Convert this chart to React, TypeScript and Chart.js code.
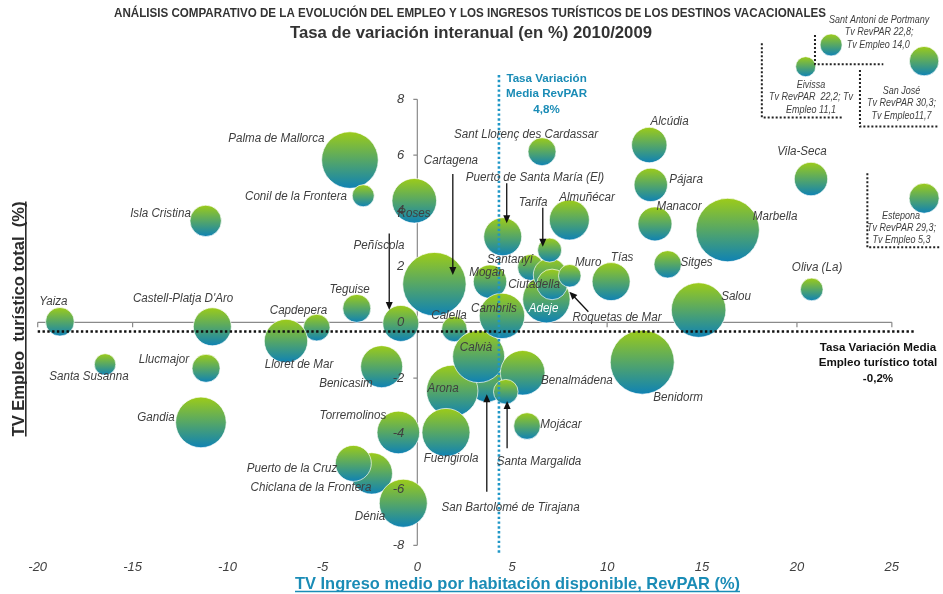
import React, { useEffect, useRef } from 'react';
import { Chart, registerables } from 'chart.js';

Chart.register(...registerables);

const FONT = '"Liberation Sans", Arial, Helvetica, sans-serif';

const TITLE = 'ANÁLISIS COMPARATIVO DE LA EVOLUCIÓN DEL EMPLEO Y LOS INGRESOS TURÍSTICOS DE LOS DESTINOS VACACIONALES';
const SUBTITLE = 'Tasa de variación interanual (en %) 2010/2009';
const X_TITLE = 'TV Ingreso medio por habitación disponible, RevPAR (%)';
const Y_TITLE = 'TV Empleo  turístico total  (%)';

// Destinations in drawing order
const DESTINOS = [
  'Yaiza', 'Santa Susanna', 'Isla Cristina', "Castell-Platja D'Aro", 'Llucmajor', 'Gandia',
  'Capdepera', 'Lloret de Mar', 'Teguise', 'Palma de Mallorca', 'Conil de la Frontera', 'Benicasim',
  'Peñíscola', 'Torremolinos', 'Chiclana de la Frontera', 'Puerto de la Cruz', 'Dénia', 'Roses',
  'Cartagena', 'San Bartolomé de Tirajana', 'Arona', 'Fuengirola', 'Calella', 'Calvià',
  'Benalmádena', 'Santa Margalida', 'Mojácar', 'Mogán', 'Cambrils', 'Puerto de Santa María (El)',
  'Santanyí', 'Sant Llorenç des Cardassar', 'Almuñécar', 'Adeje', 'Roquetas de Mar', 'Ciutadella',
  'Tarifa', 'Muro', 'Tías', 'Benidorm', 'Alcúdia', 'Pájara', 'Manacor', 'Sitges', 'Salou',
  'Marbella', 'Vila-Seca', 'Oliva (La)', 'Eivissa', 'Sant Antoni de Portmany', 'San José', 'Estepona',
];
// TV RevPAR (%) – x
const TV_REVPAR = [
  -18.83, -16.45, -11.15, -10.8, -11.13, -11.4,
  -5.3, -6.92, -3.19, -3.55, -2.85, -1.88,
  -0.87, -1.0, -2.4, -3.37, -0.74, -0.16,
  0.9, 3.67, 1.84, 1.51, 1.95, 3.23,
  5.55, 4.66, 5.78, 3.83, 4.46, 4.5,
  5.97, 6.57, 8.01, 6.8, 6.99, 7.1,
  6.97, 8.03, 10.21, 11.85, 12.22, 12.3, 12.52, 13.19, 14.82,
  16.35, 20.74, 20.78, 20.46, 21.8, 26.7, 26.7,
];
// TV Empleo turístico total (%) – y
const TV_EMPLEO = [
  0.02, -1.51, 3.64, -0.16, -1.65, -3.59,
  -0.19, -0.67, 0.5, 5.82, 4.54, -1.59,
  -0.04, -3.95, -5.42, -5.06, -6.49, 4.36,
  1.37, -2.14, -2.46, -3.95, -0.24, -1.23,
  -1.81, -2.49, -3.72, 1.46, 0.23, 3.07,
  1.97, 6.12, 3.67, 0.83, 1.7, 1.36,
  2.59, 1.67, 1.46, -1.43, 6.36, 4.93, 3.53, 2.08, 0.44,
  3.31, 5.14, 1.18, 9.17, 9.95, 9.37, 4.45,
];
// Bubble size (radius)
const TAMANO = [
  14.3, 10.7, 15.7, 19, 14, 25.3,
  13.3, 21.7, 14, 28.3, 11, 21,
  18, 21.3, 20.7, 18, 24, 22.3,
  31.7, 20, 25.7, 24, 12.7, 26,
  22.3, 12.3, 13.3, 16.7, 22.7, 19,
  13, 14, 20, 23.7, 16.7, 15.3,
  12, 11.3, 19, 32, 17.7, 16.7, 17, 13.7, 27.3,
  31.7, 16.7, 11.3, 10, 11, 14.7, 15,
];

const X_TICKS = [-20, -15, -10, -5, 0, 5, 10, 15, 20, 25];
const Y_TICKS = [-8, -6, -4, -2, 0, 2, 4, 6, 8];

const MEDIA_REVPAR_LINE = 4.3;
const MEDIA_EMPLEO_LINE = -0.33;
const MEDIA_REVPAR_TEXT = ['Tasa Variación', 'Media RevPAR', '4,8%'];
const MEDIA_EMPLEO_TEXT = ['Tasa Variación Media', 'Empleo turístico total', '-0,2%'];

// label anchor positions (data units)
const LABELS: [string, number, number][] = [
  ['Palma de Mallorca', -7.43, 6.58],
  ['Conil de la Frontera', -6.39, 4.53],
  ['Isla Cristina', -13.53, 3.92],
  ['Yaiza', -19.17, 0.76],
  ["Castell-Platja D'Aro", -12.34, 0.84],
  ['Capdepera', -6.26, 0.41],
  ['Santa Susanna', -17.3, -1.93],
  ['Llucmajor', -13.35, -1.32],
  ['Lloret de Mar', -6.23, -1.53],
  ['Benicasim', -3.76, -2.18],
  ['Gandia', -13.77, -3.43],
  ['Torremolinos', -3.39, -3.36],
  ['Puerto de la Cruz', -6.6, -5.26],
  ['Chiclana de la Frontera', -5.6, -5.91],
  ['Dénia', -2.49, -6.95],
  ['Arona', 1.36, -2.36],
  ['Fuengirola', 1.78, -4.9],
  ['Calella', 1.67, 0.26],
  ['Cambrils', 4.04, 0.48],
  ['Calvià', 3.09, -0.92],
  ['Benalmádena', 8.41, -2.07],
  ['Benidorm', 13.74, -2.68],
  ['Mojácar', 7.57, -3.68],
  ['Santa Margalida', 6.41, -4.98],
  ['San Bartolomé de Tirajana', 4.91, -6.63],
  ['Roquetas de Mar', 10.52, 0.19],
  ['Salou', 16.79, 0.94],
  ['Oliva (La)', 21.06, 1.95],
  ['Sitges', 14.71, 2.13],
  ['Tías', 10.79, 2.31],
  ['Muro', 9.0, 2.16],
  ['Marbella', 18.85, 3.81],
  ['Manacor', 13.79, 4.14],
  ['Pájara', 14.16, 5.14],
  ['Alcúdia', 13.29, 7.19],
  ['Vila-Seca', 20.27, 6.11],
  ['Almuñécar', 8.94, 4.46],
  ['Tarifa', 6.1, 4.31],
  ['Puerto de Santa María (El)', 6.2, 5.2],
  ['Sant Llorenç des Cardassar', 5.73, 6.75],
  ['Cartagena', 1.77, 5.82],
  ['Roses', -0.17, 3.92],
  ['Peñíscola', -2.02, 2.77],
  ['Teguise', -3.57, 1.19],
  ['Santanyí', 4.88, 2.27],
  ['Mogán', 3.67, 1.8],
  ['Ciutadella', 6.15, 1.37],
];
const WHITE_LABELS: [string, number, number][] = [['Adeje', 6.65, 0.51]];

const NOTES: [string, number, number][] = [
  ['Sant Antoni de Portmany', 24.33, 10.84],
  ['Tv RevPAR 22,8;', 24.33, 10.41],
  ['Tv Empleo 14,0', 24.28, 9.95],
  ['Eivissa', 20.74, 8.51],
  ['Tv RevPAR  22,2; Tv', 20.74, 8.08],
  ['Empleo 11,1', 20.74, 7.61],
  ['San José', 25.51, 8.3],
  ['Tv RevPAR 30,3;', 25.51, 7.87],
  ['Tv Empleo11,7', 25.51, 7.4],
  ['Estepona', 25.48, 3.81],
  ['Tv RevPAR 29,3;', 25.51, 3.38],
  ['Tv Empleo 5,3', 25.51, 2.95],
];

const BOXES: [number, number][][] = [
  [[18.15, 10.01], [18.15, 7.35], [22.41, 7.35]],
  [[20.95, 10.31], [20.95, 9.26], [24.55, 9.26]],
  [[23.32, 9.05], [23.32, 7.02], [27.5, 7.02]],
  [[23.71, 5.35], [23.71, 2.69], [27.5, 2.69]],
];

const ARROWS: [number, number, number, number][] = [
  [-1.48, 3.19, -1.48, 0.44],
  [1.87, 5.32, 1.87, 1.7],
  [4.71, 4.99, 4.71, 3.55],
  [6.61, 4.11, 6.61, 2.71],
  [9.01, 0.38, 8.01, 1.1],
  [3.66, -6.08, 3.66, -2.58],
  [4.73, -4.52, 4.73, -2.82],
];

const TEAL = '#1a8cb6';
const LABEL_COLOR = '#3f3f3f';

function drawText(ctx: CanvasRenderingContext2D, str: string, x: number, y: number, font: string, color: string, sx = 1, align: CanvasTextAlign = 'center') {
  ctx.save();
  ctx.font = font;
  ctx.fillStyle = color;
  ctx.textAlign = align;
  ctx.textBaseline = 'middle';
  ctx.translate(x, y);
  ctx.scale(sx, 1);
  ctx.fillText(str, 0, 0);
  ctx.restore();
}

function fitScale(ctx: CanvasRenderingContext2D, str: string, font: string, width: number) {
  ctx.save();
  ctx.font = font;
  const w = ctx.measureText(str).width;
  ctx.restore();
  return width / w;
}

const overlay = {
  id: 'overlay',
  beforeDatasetsDraw(chart: any) {
    const { ctx, scales: { x, y } } = chart;
    ctx.save();
    ctx.strokeStyle = '#8a8a8a';
    ctx.lineWidth = 1.2;
    const y0 = y.getPixelForValue(0);
    const x0 = x.getPixelForValue(0);
    ctx.beginPath();
    ctx.moveTo(x.getPixelForValue(X_TICKS[0]), y0);
    ctx.lineTo(x.getPixelForValue(X_TICKS[X_TICKS.length - 1]), y0);
    X_TICKS.forEach((v) => {
      const px = x.getPixelForValue(v);
      ctx.moveTo(px, y0);
      ctx.lineTo(px, y0 + 5);
    });
    ctx.moveTo(x0, y.getPixelForValue(Y_TICKS[0]));
    ctx.lineTo(x0, y.getPixelForValue(Y_TICKS[Y_TICKS.length - 1]));
    Y_TICKS.forEach((v) => {
      const py = y.getPixelForValue(v);
      ctx.moveTo(x0 - 4, py);
      ctx.lineTo(x0, py);
    });
    ctx.stroke();
    ctx.restore();
  },
  afterDatasetsDraw(chart: any) {
    const { ctx, scales: { x, y } } = chart;
    const X = (v: number) => x.getPixelForValue(v);
    const Y = (v: number) => y.getPixelForValue(v);

    ctx.save();
    // mean lines
    ctx.lineWidth = 2.6;
    ctx.setLineDash([2.4, 2.4]);
    ctx.strokeStyle = '#111';
    ctx.beginPath();
    ctx.moveTo(X(-20), Y(MEDIA_EMPLEO_LINE));
    ctx.lineTo(X(26.2), Y(MEDIA_EMPLEO_LINE));
    ctx.stroke();
    ctx.strokeStyle = '#1f96c6';
    ctx.beginPath();
    ctx.moveTo(X(MEDIA_REVPAR_LINE), Y(8.87));
    ctx.lineTo(X(MEDIA_REVPAR_LINE), Y(-8.3));
    ctx.stroke();

    // boxes
    ctx.lineWidth = 2;
    ctx.setLineDash([2, 2]);
    ctx.strokeStyle = '#222';
    BOXES.forEach((pts) => {
      ctx.beginPath();
      pts.forEach(([a, b], i) => (i ? ctx.lineTo(X(a), Y(b)) : ctx.moveTo(X(a), Y(b))));
      ctx.stroke();
    });
    ctx.setLineDash([]);

    // arrows
    ctx.strokeStyle = '#111';
    ctx.fillStyle = '#111';
    ctx.lineWidth = 1.3;
    ARROWS.forEach(([a, b, c, d]) => {
      const x1 = X(a), y1 = Y(b), x2 = X(c), y2 = Y(d);
      const ang = Math.atan2(y2 - y1, x2 - x1);
      ctx.beginPath();
      ctx.moveTo(x1, y1);
      ctx.lineTo(x2 - 5 * Math.cos(ang), y2 - 5 * Math.sin(ang));
      ctx.stroke();
      ctx.beginPath();
      ctx.moveTo(x2, y2);
      ctx.lineTo(x2 - 8 * Math.cos(ang) + 3.5 * Math.sin(ang), y2 - 8 * Math.sin(ang) - 3.5 * Math.cos(ang));
      ctx.lineTo(x2 - 8 * Math.cos(ang) - 3.5 * Math.sin(ang), y2 - 8 * Math.sin(ang) + 3.5 * Math.cos(ang));
      ctx.closePath();
      ctx.fill();
    });
    ctx.restore();

    // y tick labels
    Y_TICKS.forEach((v) => {
      drawText(ctx, String(v), X(0) - 13, Y(v), `italic 13px ${FONT}`, '#404040', 1, 'right');
    });

    // bubble labels
    const lf = `italic 12.5px ${FONT}`;
    LABELS.forEach(([t, a, b]) => drawText(ctx, t, X(a), Y(b), lf, LABEL_COLOR, 0.93));
    WHITE_LABELS.forEach(([t, a, b]) => drawText(ctx, t, X(a), Y(b), lf, '#ffffff', 0.93));
    NOTES.forEach(([t, a, b]) => drawText(ctx, t, X(a), Y(b), `italic 10px ${FONT}`, LABEL_COLOR, 0.9));

    // mean annotations
    const bf = `bold 11.6px ${FONT}`;
    MEDIA_REVPAR_TEXT.forEach((t, i) => drawText(ctx, t, X(6.81), Y([8.73, 8.18, 7.62][i]), bf, TEAL));
    MEDIA_EMPLEO_TEXT.forEach((t, i) => drawText(ctx, t, X(24.27), Y([-0.91, -1.45, -2.01][i]), bf, '#111'));

    // titles
    const tf = `bold 12.5px ${FONT}`;
    drawText(ctx, TITLE, 470, 14, tf, '#333', fitScale(ctx, TITLE, tf, 712));
    const sf = `bold 16px ${FONT}`;
    drawText(ctx, SUBTITLE, 471, 34, sf, '#333', fitScale(ctx, SUBTITLE, sf, 362));

    // x title
    const xf = `bold 17px ${FONT}`;
    const xs = fitScale(ctx, X_TITLE, xf, 445);
    ctx.save();
    ctx.font = xf;
    ctx.fillStyle = TEAL;
    ctx.textAlign = 'center';
    ctx.textBaseline = 'alphabetic';
    ctx.translate(517.5, 588.5);
    ctx.scale(xs, 1);
    ctx.fillText(X_TITLE, 0, 0);
    ctx.restore();
    ctx.save();
    ctx.strokeStyle = TEAL;
    ctx.lineWidth = 1.6;
    ctx.beginPath();
    ctx.moveTo(295, 591.5);
    ctx.lineTo(740, 591.5);
    ctx.stroke();
    ctx.restore();

    // y title
    const yf = `bold 16.5px ${FONT}`;
    const ys = fitScale(ctx, Y_TITLE, yf, 235);
    ctx.save();
    ctx.font = yf;
    ctx.fillStyle = '#2b2b2b';
    ctx.textAlign = 'center';
    ctx.textBaseline = 'alphabetic';
    ctx.translate(24, 319);
    ctx.rotate(-Math.PI / 2);
    ctx.scale(ys, 1);
    ctx.fillText(Y_TITLE, 0, 0);
    ctx.restore();
    ctx.save();
    ctx.strokeStyle = '#2b2b2b';
    ctx.lineWidth = 1.6;
    ctx.beginPath();
    ctx.moveTo(25.8, 201.5);
    ctx.lineTo(25.8, 436.5);
    ctx.stroke();
    ctx.restore();
  },
};

export default function App() {
  const ref = useRef<HTMLCanvasElement>(null);
  useEffect(() => {
    const points = DESTINOS.map((_, i) => ({ x: TV_REVPAR[i], y: TV_EMPLEO[i], r: TAMANO[i] }));
    const chart = new Chart(ref.current!, {
      type: 'bubble',
      data: {
        datasets: [
          {
            label: 'Destinos',
            data: points,
            clip: false as any,
            borderWidth: 0.8,
            borderColor: 'rgba(255,255,255,0.85)',
            backgroundColor: (c: any) => {
              const ch = c.chart;
              if (c.type !== 'data' || !ch.chartArea || !ch.scales || !ch.scales.y) return '#5aa86a';
              const raw = c.raw;
              const py = ch.scales.y.getPixelForValue(raw.y);
              if (!isFinite(py) || !isFinite(raw.r)) return '#5aa86a';
              const g = ch.ctx.createLinearGradient(0, py - raw.r, 0, py + raw.r);
              g.addColorStop(0, '#9ccb19');
              g.addColorStop(1, '#0f82b4');
              return g;
            },
          } as any,
        ],
      },
      options: {
        animation: false,
        responsive: true,
        maintainAspectRatio: false,
        events: [],
        layout: { autoPadding: false, padding: { left: 37.7, right: 3.7, top: 29.6, bottom: 12.7 } },
        plugins: { legend: { display: false }, tooltip: { enabled: false }, title: { display: false } },
        scales: {
          x: {
            type: 'linear',
            min: -20,
            max: 27.5,
            grid: { display: false, drawTicks: false },
            border: { display: false },
            afterBuildTicks: (s: any) => {
              s.ticks = X_TICKS.map((v) => ({ value: v }));
            },
            afterFit: (s: any) => {
              s.paddingLeft = 0;
              s.paddingRight = 0;
            },
            ticks: {
              padding: 6,
              color: '#404040',
              font: { family: FONT, size: 13, style: 'italic' },
              callback: (v: any) => String(v),
            },
          },
          y: {
            type: 'linear',
            display: false,
            min: -8.3,
            max: 10.5,
          },
        },
      } as any,
      plugins: [overlay],
    });
    return () => chart.destroy();
  }, []);
  return (
    <div style={{ position: 'fixed', left: 0, top: 0, width: 943, height: 594, background: '#fff' }}>
      <canvas ref={ref} />
    </div>
  );
}
